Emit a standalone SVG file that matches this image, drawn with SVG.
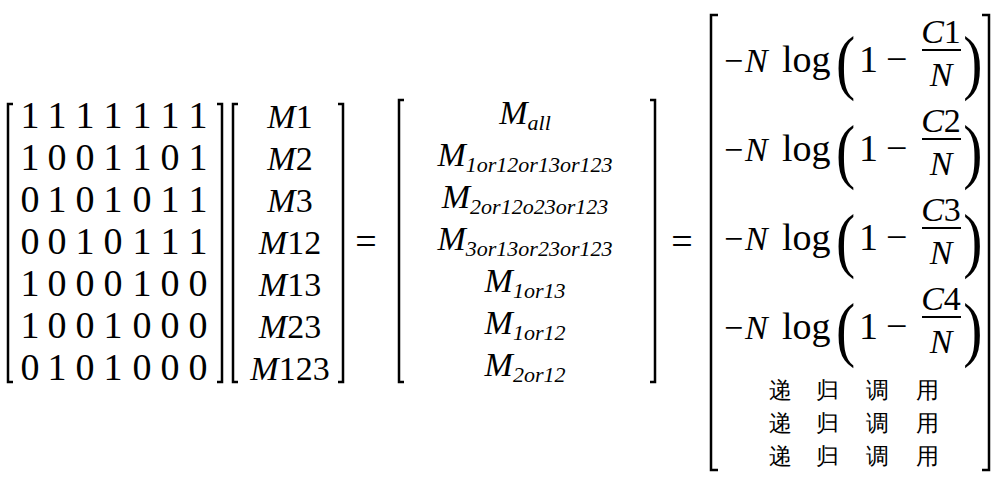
<svg xmlns="http://www.w3.org/2000/svg" width="1000" height="480" viewBox="0 0 1000 480">
<style>
text{font-family:"Liberation Serif","DejaVu Serif",serif;fill:#000}
.n{font-size:38px}
.m{font-size:34px;font-style:italic}
.s{font-size:22px;font-style:italic}
.c{font-size:23px;font-family:"Noto Sans CJK SC","Noto Sans CJK JP",serif}
.b{fill:none;stroke:#000;stroke-width:2.5}
.p{font-size:72px}
.f{stroke:#000;stroke-width:2}
</style>
<rect width="1000" height="480" fill="#fff"/>
<g id="matrix-a">
<path class="b" d="M13,104 H8 V382 H13 M217,104 H222 V382 H217"/>
<g class="n" text-anchor="middle">
<text y="128"><tspan x="30">1</tspan><tspan x="57">1</tspan><tspan x="85">1</tspan><tspan x="113">1</tspan><tspan x="142">1</tspan><tspan x="170">1</tspan><tspan x="198">1</tspan></text>
<text y="170"><tspan x="30">1</tspan><tspan x="57">0</tspan><tspan x="85">0</tspan><tspan x="113">1</tspan><tspan x="142">1</tspan><tspan x="170">0</tspan><tspan x="198">1</tspan></text>
<text y="212"><tspan x="30">0</tspan><tspan x="57">1</tspan><tspan x="85">0</tspan><tspan x="113">1</tspan><tspan x="142">0</tspan><tspan x="170">1</tspan><tspan x="198">1</tspan></text>
<text y="254"><tspan x="30">0</tspan><tspan x="57">0</tspan><tspan x="85">1</tspan><tspan x="113">0</tspan><tspan x="142">1</tspan><tspan x="170">1</tspan><tspan x="198">1</tspan></text>
<text y="296"><tspan x="30">1</tspan><tspan x="57">0</tspan><tspan x="85">0</tspan><tspan x="113">0</tspan><tspan x="142">1</tspan><tspan x="170">0</tspan><tspan x="198">0</tspan></text>
<text y="338"><tspan x="30">1</tspan><tspan x="57">0</tspan><tspan x="85">0</tspan><tspan x="113">1</tspan><tspan x="142">0</tspan><tspan x="170">0</tspan><tspan x="198">0</tspan></text>
<text y="380"><tspan x="30">0</tspan><tspan x="57">1</tspan><tspan x="85">0</tspan><tspan x="113">1</tspan><tspan x="142">0</tspan><tspan x="170">0</tspan><tspan x="198">0</tspan></text>
</g>
</g>
<g id="vector-m">
<path class="b" d="M238,104 H233 V382 H238 M338,104 H343 V382 H338"/>
<g class="m" text-anchor="middle">
<text x="290" y="128">M<tspan font-style="normal">1</tspan></text>
<text x="290" y="170">M<tspan font-style="normal">2</tspan></text>
<text x="290" y="212">M<tspan font-style="normal">3</tspan></text>
<text x="290" y="254">M<tspan font-style="normal">12</tspan></text>
<text x="290" y="296">M<tspan font-style="normal">13</tspan></text>
<text x="290" y="338">M<tspan font-style="normal">23</tspan></text>
<text x="290" y="380">M<tspan font-style="normal">123</tspan></text>
</g>
</g>
<text class="n" x="366" y="254" text-anchor="middle">=</text>
<g id="vector-merged">
<path class="b" d="M404,100 H399 V382 H404 M650,100 H655 V382 H650"/>
<g class="m" text-anchor="middle">
<text x="525" y="124">M<tspan class="s" dy="6">all</tspan></text>
<text x="525" y="166">M<tspan class="s" dy="6">1or12or13or123</tspan></text>
<text x="525" y="208">M<tspan class="s" dy="6">2or12o23or123</tspan></text>
<text x="525" y="250">M<tspan class="s" dy="6">3or13or23or123</tspan></text>
<text x="525" y="292">M<tspan class="s" dy="6">1or13</tspan></text>
<text x="525" y="334">M<tspan class="s" dy="6">1or12</tspan></text>
<text x="525" y="376">M<tspan class="s" dy="6">2or12</tspan></text>
</g>
</g>
<text class="n" x="682" y="254" text-anchor="middle">=</text>
<g id="vector-log">
<path class="b" d="M718,15 H711 V470 H718 M982,15 H989 V470 H982"/>
<g id="r1">
<text class="m" x="722" y="72">−N</text><text class="n" x="782" y="72">log</text>
<text class="p" x="836" y="86" transform="scale(0.8,1) translate(209,0)">(</text>
<text class="n" x="859" y="72">1</text><text class="n" x="886" y="72">−</text>
<text class="m" x="941" y="43" text-anchor="middle">C<tspan font-style="normal">1</tspan></text>
<path class="f" d="M922,50 H961"/>
<text class="m" x="941" y="86" text-anchor="middle">N</text>
<text class="p" x="963" y="86" transform="scale(0.8,1) translate(241,0)">)</text>
</g>
<g id="r2" transform="translate(0,89)">
<text class="m" x="722" y="72">−N</text><text class="n" x="782" y="72">log</text>
<text class="p" x="836" y="86" transform="scale(0.8,1) translate(209,0)">(</text>
<text class="n" x="859" y="72">1</text><text class="n" x="886" y="72">−</text>
<text class="m" x="941" y="43" text-anchor="middle">C<tspan font-style="normal">2</tspan></text>
<path class="f" d="M922,50 H961"/>
<text class="m" x="941" y="86" text-anchor="middle">N</text>
<text class="p" x="963" y="86" transform="scale(0.8,1) translate(241,0)">)</text>
</g>
<g id="r3" transform="translate(0,178)">
<text class="m" x="722" y="72">−N</text><text class="n" x="782" y="72">log</text>
<text class="p" x="836" y="86" transform="scale(0.8,1) translate(209,0)">(</text>
<text class="n" x="859" y="72">1</text><text class="n" x="886" y="72">−</text>
<text class="m" x="941" y="43" text-anchor="middle">C<tspan font-style="normal">3</tspan></text>
<path class="f" d="M922,50 H961"/>
<text class="m" x="941" y="86" text-anchor="middle">N</text>
<text class="p" x="963" y="86" transform="scale(0.8,1) translate(241,0)">)</text>
</g>
<g id="r4" transform="translate(0,267)">
<text class="m" x="722" y="72">−N</text><text class="n" x="782" y="72">log</text>
<text class="p" x="836" y="86" transform="scale(0.8,1) translate(209,0)">(</text>
<text class="n" x="859" y="72">1</text><text class="n" x="886" y="72">−</text>
<text class="m" x="941" y="43" text-anchor="middle">C<tspan font-style="normal">4</tspan></text>
<path class="f" d="M922,50 H961"/>
<text class="m" x="941" y="86" text-anchor="middle">N</text>
<text class="p" x="963" y="86" transform="scale(0.8,1) translate(241,0)">)</text>
</g>
<g class="c" text-anchor="middle">
<text y="398"><tspan x="780">递</tspan><tspan x="827">归</tspan><tspan x="877">调</tspan><tspan x="927">用</tspan></text>
<text y="431"><tspan x="780">递</tspan><tspan x="827">归</tspan><tspan x="877">调</tspan><tspan x="927">用</tspan></text>
<text y="464"><tspan x="780">递</tspan><tspan x="827">归</tspan><tspan x="877">调</tspan><tspan x="927">用</tspan></text>
</g>
</g>
</svg>
